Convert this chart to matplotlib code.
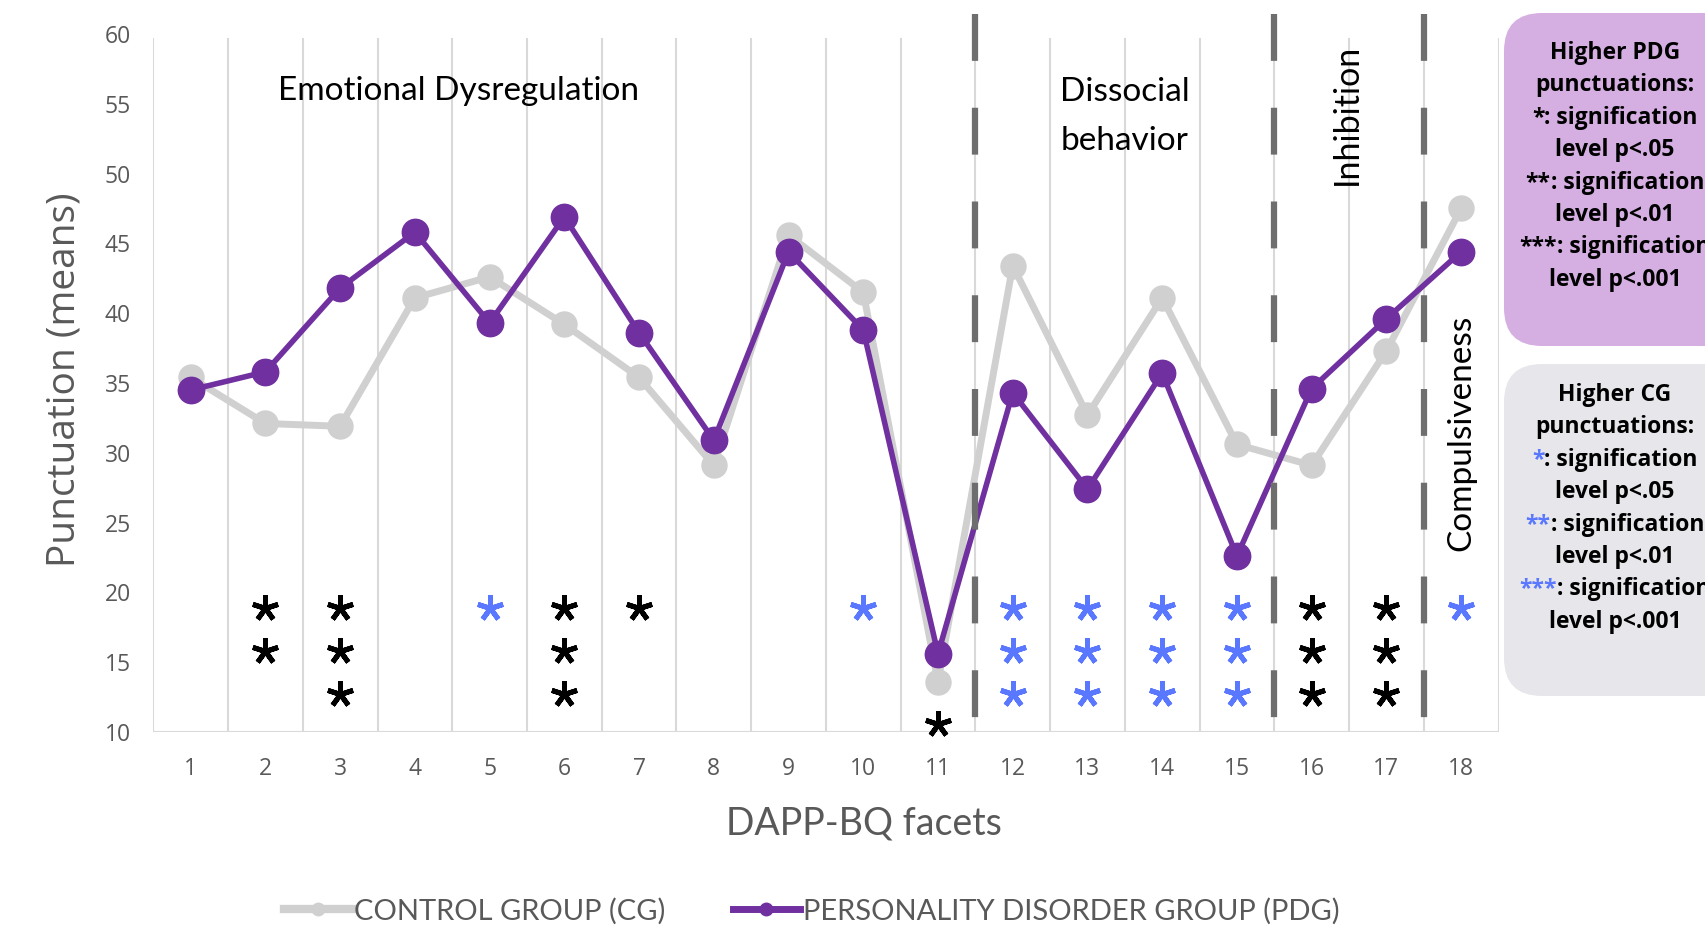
import numpy as np
import matplotlib.pyplot as plt
from matplotlib.lines import Line2D
from matplotlib.patches import FancyBboxPatch
from matplotlib.offsetbox import TextArea, HPacker, AnnotationBbox

# DAPP-BQ facet means per group
facets = list(range(1, 19))
cg_means = [35.4, 32.1, 31.9, 41.1, 42.6, 39.2, 35.4, 29.1, 45.6, 41.5,
            13.6, 43.4, 32.7, 41.1, 30.6, 29.1, 37.3, 47.5]
pdg_means = [34.5, 35.8, 41.8, 45.8, 39.3, 46.9, 38.6, 30.9, 44.4, 38.8,
             15.6, 34.3, 27.4, 35.7, 22.6, 34.6, 39.6, 44.4]

# significance: number of asterisks and which group scored higher
n_stars = [0, 2, 3, 0, 1, 3, 1, 0, 0, 1, 1, 3, 3, 3, 3, 3, 3, 1]
higher = ["", "PDG", "PDG", "", "CG", "PDG", "PDG", "", "", "CG",
          "PDG", "CG", "CG", "CG", "CG", "PDG", "PDG", "CG"]

# domain separators and labels
separators = [11.5, 15.5, 17.5]
domains = ["Emotional Dysregulation", "Dissocial\nbehavior", "Inhibition", "Compulsiveness"]

pdg_box = [("", "Higher PDG"), ("", "punctuations:"),
           ("*", ": signification"), ("", "level p<.05"),
           ("**", ": signification"), ("", "level p<.01"),
           ("***", ": signification"), ("", "level p<.001")]
cg_box = [("", "Higher CG"), ("", "punctuations:"),
          ("*", ": signification"), ("", "level p<.05"),
          ("**", ": signification"), ("", "level p<.01"),
          ("***", ": signification"), ("", "level p<.001")]

PURPLE = "#7030A0"
GRAY = "#D0D0D0"
BLUE = "#5A78FF"
TXT = "#595959"

W, H = 1705, 935
fig = plt.figure(figsize=(W / 100, H / 100), dpi=100)
ax = fig.add_axes([153.3 / W, 1 - 732 / H, 1345.2 / W, 698 / H])

ax.set_xlim(0.5, 18.5)
ax.set_ylim(10, 60)
for s in ax.spines.values():
    s.set_visible(False)

ax.vlines(np.arange(0.5, 19), 10, 59.7, color="#D9D9D9", lw=1.5, zorder=0)
ax.hlines(10, 0.5, 18.5, color="#D9D9D9", lw=1.5, zorder=0)

ax.plot(facets, cg_means, color=GRAY, lw=5, marker="o", ms=18, zorder=2)
ax.plot(facets, pdg_means, color=PURPLE, lw=4, marker="o", ms=19, zorder=3)

ax.set_xticks(facets)
ax.set_yticks(np.arange(10, 61, 5))
ax.tick_params(length=0, labelcolor=TXT)
ax.tick_params(axis="x", pad=18)
ax.tick_params(axis="y", pad=16)
for lab in ax.get_xticklabels() + ax.get_yticklabels():
    lab.set_fontfamily("Open Sans")
    lab.set_fontsize(16.5)

# significance asterisks
for x, n, grp, c, p in zip(facets, n_stars, higher, cg_means, pdg_means):
    if n == 0:
        continue
    top = min(18.9, min(c, p) - 3)
    col = BLUE if grp == "CG" else "black"
    for k in range(n):
        ax.plot(x, top - 3.1 * k, marker=(5, 2, 0), ms=19, mew=3.6,
                color=col, clip_on=False, zorder=4)

# domain separators
for xs in separators:
    ax.plot([xs, xs], [61.4, 7.85], color="#6E6E6E", lw=4.5,
            dashes=(7.5, 7.5), clip_on=False, zorder=5)

ax.text(4.58, 55.95, domains[0], ha="center", va="center", fontsize=24, family="Lato")
ax.text(13.5, 54.1, domains[1], ha="center", va="center", fontsize=24,
        family="Lato", linespacing=1.8)
ax.text(16.47, 54.25, domains[2], ha="center", va="center", fontsize=24.5,
        family="Lato", rotation=90)
ax.text(18.0, 31.4, domains[3], ha="center", va="center", fontsize=24,
        family="Lato", rotation=90)

fig.text(65 / W, 1 - 380 / H, "Punctuation (means)", rotation=90, ha="center",
         va="center", fontsize=28, family="Open Sans", color=TXT)
fig.text(864 / W, 1 - 823 / H, "DAPP-BQ facets", ha="center", va="center",
         fontsize=27, family="Lato", color=TXT)

handles = [Line2D([], [], color=GRAY, lw=6, marker="o", ms=9),
           Line2D([], [], color=PURPLE, lw=5, marker="o", ms=9)]
fig.legend(handles, ["CONTROL GROUP (CG)", "PERSONALITY DISORDER GROUP (PDG)"],
           loc="center", bbox_to_anchor=(812 / W, 1 - 911 / H), ncol=2,
           frameon=False, handlelength=2.3, handletextpad=0.1,
           columnspacing=2.3, prop={"family": "Lato", "size": 21},
           labelcolor=TXT)

# side boxes with the significance key
ov = fig.add_axes([0, 0, 1, 1], zorder=-1)
ov.set_xlim(0, W)
ov.set_ylim(H, 0)
ov.axis("off")
ov.patch.set_alpha(0)

ov.add_patch(FancyBboxPatch((1504, 13), 260, 333,
                            boxstyle="round,pad=0,rounding_size=38",
                            fc="#D5AFE1", ec="none"))
ov.add_patch(FancyBboxPatch((1504, 364), 260, 332,
                            boxstyle="round,pad=0,rounding_size=38",
                            fc="#E7E6EA", ec="none"))

fp = dict(family="Open Sans", weight="bold", size=16.5)


def box_lines(lines, y0, star_col):
    for i, (stars, rest) in enumerate(lines):
        parts = []
        if stars:
            parts.append(TextArea(stars, textprops=dict(color=star_col, **fp)))
        parts.append(TextArea(rest, textprops=dict(color="black", **fp)))
        pack = HPacker(children=parts, pad=0, sep=0, align="baseline")
        ab = AnnotationBbox(pack, (1615, y0 + 32.4 * i), xycoords="data",
                            frameon=False, box_alignment=(0.5, 0.5), pad=0,
                            annotation_clip=False)
        ov.add_artist(ab)


box_lines(pdg_box, 53, "black")
box_lines(cg_box, 395, BLUE)

fig.savefig("out.png", dpi=100)
